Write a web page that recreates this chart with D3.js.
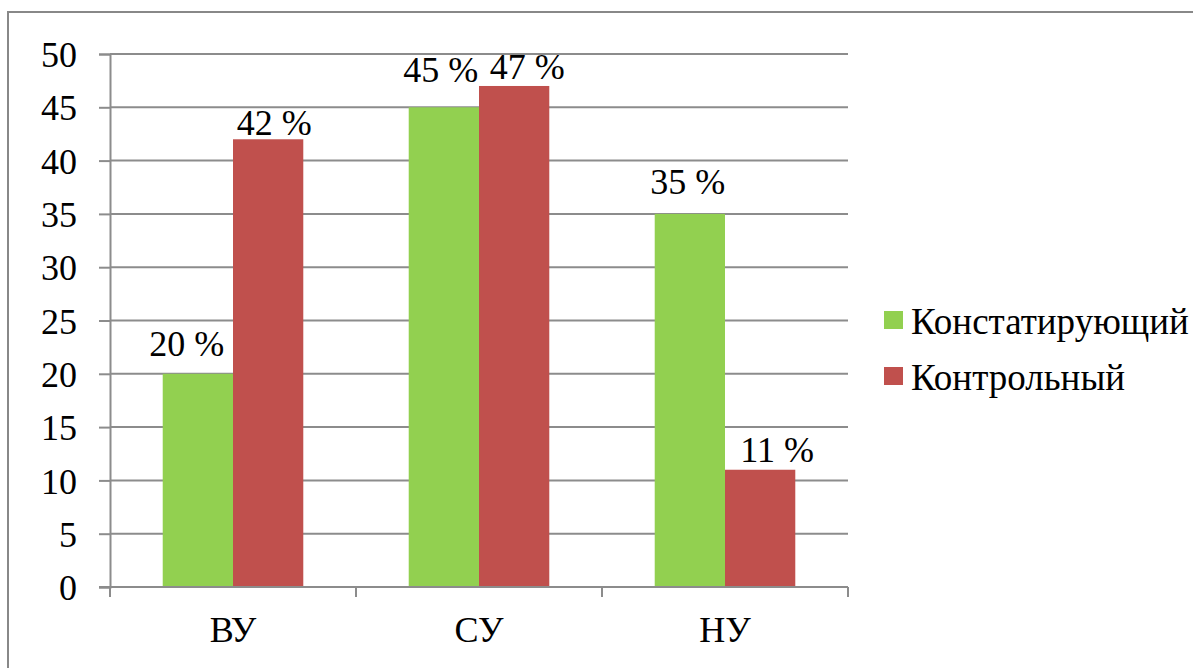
<!DOCTYPE html>
<html>
<head>
<meta charset="utf-8">
<script src="https://cdn.jsdelivr.net/npm/d3@7"></script>
<style>
  body { margin: 0; background: #fff; }
</style>
</head>
<body>
<div id="chart"></div>
<script>
const categories = ["ВУ", "СУ", "НУ"];
const seriesNames = ["Констатирующий", "Контрольный"];
const konstat = [20, 45, 35];
const kontrol = [42, 47, 11];
const yTicks = [0, 5, 10, 15, 20, 25, 30, 35, 40, 45, 50];
const colors = ["#92D050", "#C0504D"];

// hand-placed data labels in the original: nudges (px) per series
const labelDx = [[-11, -3, -2], [6, 13, 17]];
const labelGap = [[18, 25, 20], [4, 7, 8]];

const W = 1193, H = 668;
const plot = { left: 110, right: 848, top: 54, bottom: 587 };
const fontSize = 36;
const FONT = "'Times New Roman', 'Liberation Serif', serif";
const GRID = "#8c8c8c";

const svg = d3.select("#chart").append("svg")
    .attr("width", W)
    .attr("height", H)
    .attr("font-family", FONT);

// chart border (right/bottom fall outside the picture)
svg.append("rect")
    .attr("x", 8).attr("y", 12)
    .attr("width", W + 10).attr("height", H + 10)
    .attr("fill", "none")
    .attr("stroke", "#888")
    .attr("stroke-width", 2);

const x0 = d3.scaleBand().domain(categories).range([plot.left, plot.right]).paddingInner(0);
const x1 = d3.scaleBand().domain(seriesNames).range([0, x0.bandwidth()]).paddingInner(0).paddingOuter(0.75);
const y = d3.scaleLinear().domain([0, 50]).range([plot.bottom, plot.top]);

// gridlines
svg.append("g").selectAll("line")
    .data(yTicks.filter(t => t > 0))
    .enter().append("line")
    .attr("x1", plot.left).attr("x2", plot.right)
    .attr("y1", d => y(d)).attr("y2", d => y(d))
    .attr("stroke", GRID).attr("stroke-width", 2);

// y axis
const yAxis = svg.append("g")
    .attr("transform", `translate(${plot.left},0)`)
    .call(d3.axisLeft(y).tickValues(yTicks).tickSize(11).tickPadding(22));
yAxis.attr("font-family", FONT).attr("font-size", fontSize);
yAxis.select(".domain").attr("stroke", GRID).attr("stroke-width", 2);
yAxis.selectAll(".tick line").attr("stroke", GRID).attr("stroke-width", 2);
yAxis.selectAll("text")
    .attr("dy", "0.35em")
    .attr("fill", "#000");

// bars
const groups = svg.append("g").selectAll("g")
    .data(categories)
    .enter().append("g")
    .attr("transform", d => `translate(${x0(d)},0)`);

const barData = (c, i) => [
    { s: seriesNames[0], v: konstat[i], c: colors[0], dx: labelDx[0][i], gap: labelGap[0][i] },
    { s: seriesNames[1], v: kontrol[i], c: colors[1], dx: labelDx[1][i], gap: labelGap[1][i] }
];

groups.selectAll("rect")
    .data(barData)
    .enter().append("rect")
    .attr("x", d => x1(d.s))
    .attr("width", x1.bandwidth())
    .attr("y", d => y(d.v))
    .attr("height", d => y(0) - y(d.v))
    .attr("fill", d => d.c);

groups.selectAll("text")
    .data(barData)
    .enter().append("text")
    .attr("x", d => x1(d.s) + x1.bandwidth() / 2 + d.dx)
    .attr("y", d => y(d.v) - d.gap)
    .attr("text-anchor", "middle")
    .attr("font-family", FONT)
    .attr("font-size", fontSize)
    .text(d => d.v + " %");

// x axis
const xAxis = svg.append("g")
    .attr("transform", `translate(0,${plot.bottom})`);
xAxis.append("line")
    .attr("x1", plot.left - 11).attr("x2", plot.right)
    .attr("y1", 0).attr("y2", 0)
    .attr("stroke", GRID).attr("stroke-width", 2);
xAxis.selectAll(".sep")
    .data(categories.map(c => x0(c)).concat([plot.right]))
    .enter().append("line")
    .attr("x1", d => d).attr("x2", d => d)
    .attr("y1", 0).attr("y2", 10)
    .attr("stroke", GRID).attr("stroke-width", 2);
xAxis.selectAll(".lbl")
    .data(categories)
    .enter().append("text")
    .attr("x", d => x0(d) + x0.bandwidth() / 2)
    .attr("y", 55)
    .attr("text-anchor", "middle")
    .attr("font-family", FONT)
    .attr("font-size", fontSize)
    .text(d => d);

// legend
const legend = svg.append("g").attr("transform", "translate(884,311)");
const li = legend.selectAll("g")
    .data(seriesNames)
    .enter().append("g")
    .attr("transform", (d, i) => `translate(0,${i * 56})`);
li.append("rect")
    .attr("width", 19).attr("height", 18)
    .attr("fill", (d, i) => colors[i]);
li.append("text")
    .attr("x", 27).attr("y", 23)
    .attr("font-family", FONT)
    .attr("font-size", 37)
    .text(d => d);
</script>
</body>
</html>
